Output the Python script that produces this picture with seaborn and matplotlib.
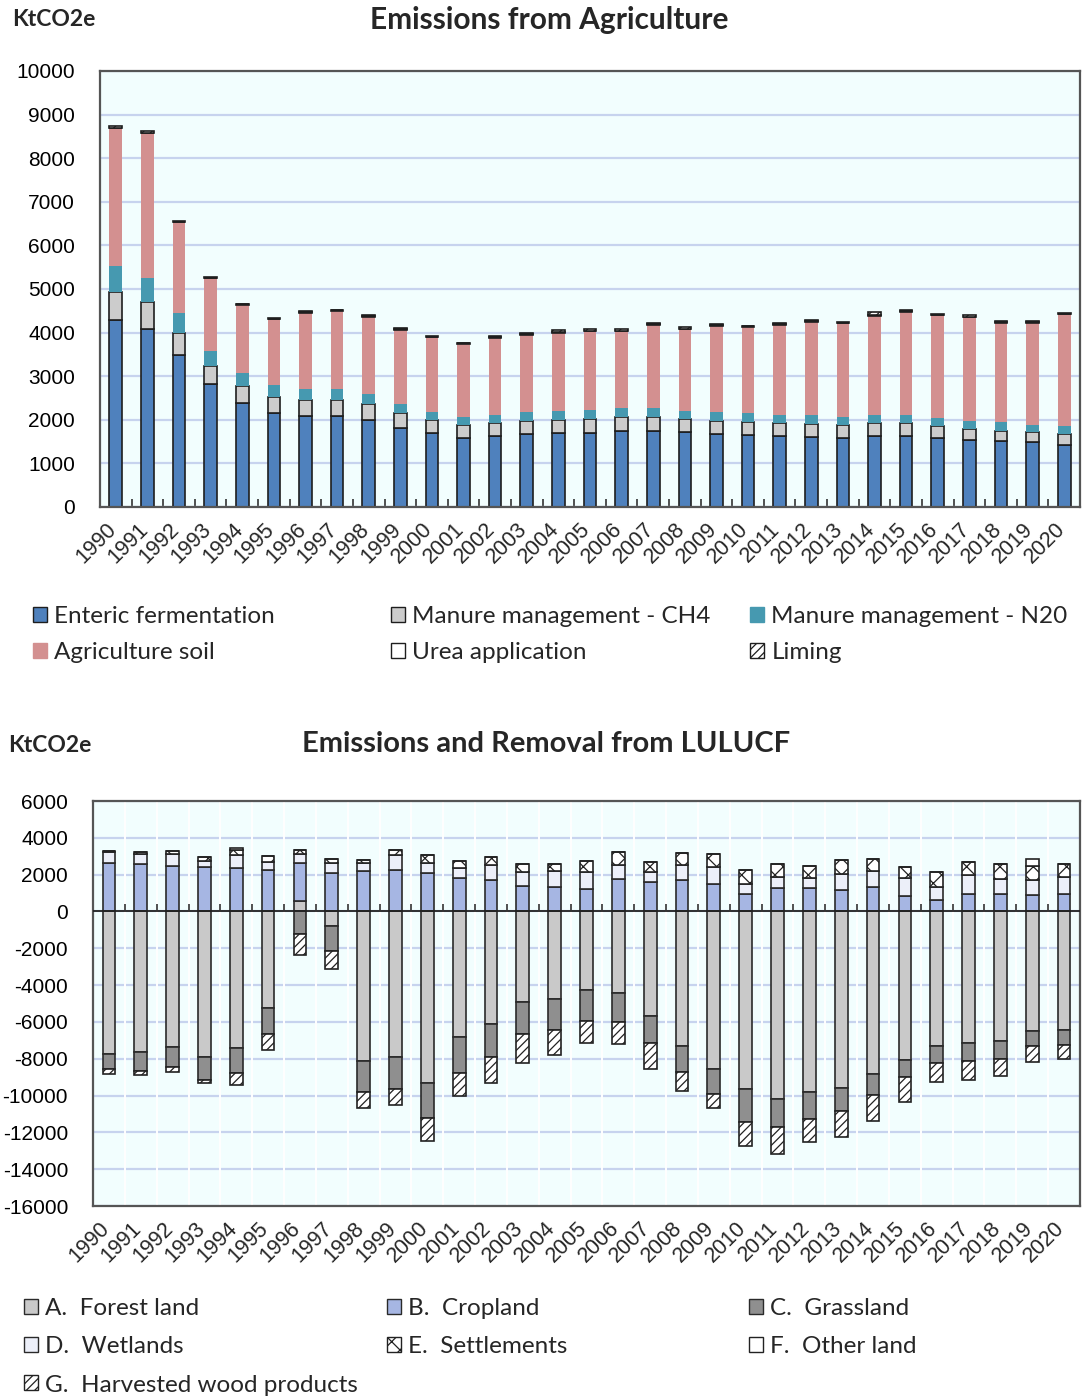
import matplotlib
matplotlib.use("Agg")
import matplotlib.pyplot as plt
import matplotlib.transforms as mtransforms
import numpy as np
import seaborn as sns
from matplotlib.patches import Patch

YEARS = [str(y) for y in range(1990, 2021)]

# Emissions from Agriculture (KtCO2e)
enteric = [4285, 4078, 3497, 2823, 2395, 2158, 2089, 2089, 2005, 1821, 1699, 1584, 1622, 1668, 1699, 1696,
           1734, 1734, 1711, 1673, 1642, 1627, 1604, 1574, 1620, 1627, 1581, 1528, 1505, 1482, 1429]
manure_ch4 = [650, 627, 505, 406, 390, 367, 375, 375, 367, 337, 290, 291, 306, 306, 290, 321,
              321, 329, 306, 298, 306, 298, 306, 298, 305, 298, 268, 260, 244, 229, 244]
manure_n2o = [597, 536, 451, 344, 291, 283, 252, 252, 229, 199, 199, 191, 191, 214, 214, 198,
              214, 214, 191, 199, 199, 191, 191, 183, 183, 191, 191, 175, 191, 176, 176]
agri_soil = [3152, 3328, 2073, 1668, 1561, 1499, 1745, 1783, 1760, 1706, 1706, 1675, 1768, 1768, 1799, 1811,
             1764, 1894, 1871, 1986, 1978, 2063, 2139, 2154, 2277, 2353, 2353, 2391, 2277, 2338, 2574]
urea = [15] * 31
liming = [41, 39, 24, 23, 15, 9, 15, 15, 23, 23, 16, 16, 15, 15, 38, 46,
          24, 31, 24, 31, 16, 15, 23, 24, 77, 39, 30, 24, 23, 23, 23]

# Emissions and Removal from LULUCF (KtCO2e)
forest = [-7763, -7654, -7345, -7890, -7400, -5218, 564, -764, -8127, -7927, -9309, -6836, -6109, -4927, -4763, -4272,
          -4436, -5672, -7291, -8545, -9654, -10163, -9800, -9581, -8836, -8072, -7291, -7127, -7036, -6472, -6436]
cropland = [2654, 2563, 2491, 2400, 2345, 2273, 2091, 2109, 2182, 2254, 2109, 1818, 1709, 1382, 1309, 1236,
            1764, 1600, 1709, 1491, 945, 1291, 1254, 1182, 1327, 836, 636, 964, 927, 873, 945]
grassland = [-818, -1000, -1091, -1273, -1400, -1454, -1200, -1400, -1673, -1727, -1891, -1964, -1818, -1745, -1673, -1673,
             -1582, -1491, -1454, -1345, -1782, -1545, -1454, -1254, -1109, -945, -964, -982, -964, -855, -836]
wetlands = [582, 582, 655, 364, 745, 400, 491, 509, 436, 800, 509, 527, 818, 764, 873, 909,
            764, 564, 818, 909, 545, 600, 582, 873, 855, 982, 709, 1000, 855, 818, 945]
settlements = [70, 109, 164, 182, 273, 327, 218, 255, 200, 273, 436, 382, 418, 418, 400, 618,
               709, 509, 636, 709, 745, 691, 636, 745, 655, 618, 800, 709, 782, 782, 691]
other_land = [0, 0, 0, 0, 100, 0, 0, 0, 0, 0, 0, 0, 0, 0, 0, 0,
              0, 0, 0, 0, 0, 0, 0, 0, 0, 0, 0, 0, 0, 364, 0]
hwp = [-273, -236, -273, -145, -636, -854, -1182, -945, -873, -873, -1273, -1200, -1382, -1545, -1345, -1218,
       -1200, -1400, -1000, -782, -1327, -1491, -1254, -1418, -1436, -1309, -1036, -1054, -927, -836, -764]

EDGE = "#1e1e1e"
AGRI_LAYERS = [
    ("Enteric fermentation", enteric, dict(color="#4f81bd", edgecolor=EDGE, linewidth=1.2)),
    ("Manure management - CH4", manure_ch4, dict(color="#cccccc", edgecolor=EDGE, linewidth=1.2)),
    ("Manure management - N20", manure_n2o, dict(color="#4699b0", linewidth=0)),
    ("Agriculture soil", agri_soil, dict(color="#d39090", linewidth=0)),
    ("Urea application", urea, dict(color="white", edgecolor=EDGE, linewidth=1.2)),
    ("Liming", liming, dict(color="white", edgecolor=EDGE, linewidth=1.2, hatch="////")),
]
LULUCF_LAYERS = [
    ("A.  Forest land", forest, dict(color="#c9c9c9", edgecolor="#2a2a2a", linewidth=1.2)),
    ("B.  Cropland", cropland, dict(color="#a6b6e3", edgecolor="#2a2a2a", linewidth=1.2)),
    ("C.  Grassland", grassland, dict(color="#8f8f8f", edgecolor="#2a2a2a", linewidth=1.2)),
    ("D.  Wetlands", wetlands, dict(color="#eceff9", edgecolor="#2a2a2a", linewidth=1.2)),
    ("E.  Settlements", settlements, dict(color="white", edgecolor="#222222", linewidth=1.2, hatch="xx")),
    ("F.  Other land", other_land, dict(color="white", edgecolor="#222222", linewidth=1.2)),
    ("G.  Harvested wood products", hwp, dict(color="white", edgecolor="#222222", linewidth=1.2, hatch="////")),
]

TICK_FONT = "Liberation Sans"
TEXT_FONT = "Lato"
BG = "#f2fefe"
GRID = "#c7d3ee"


def stacked_bars(ax, layers):
    pos = np.zeros(len(YEARS))
    neg = np.zeros(len(YEARS))
    for _, vals, style in layers:
        vals = np.asarray(vals, dtype=float)
        bottom = np.where(vals >= 0, pos, neg)
        sns.barplot(x=YEARS, y=vals, order=YEARS, ax=ax, bottom=bottom, width=0.4,
                    saturation=1, errorbar=None, **style)
        pos += np.clip(vals, 0, None)
        neg += np.clip(vals, None, 0)


def style_axes(ax, yticks):
    ax.set_facecolor(BG)
    ax.set_axisbelow(True)
    ax.set_xlim(-0.5, len(YEARS) - 0.5)
    ax.set_ylim(yticks[0], yticks[-1])
    ax.set_yticks(yticks)
    ax.set_yticklabels([str(v) for v in yticks], fontsize=15, family=TICK_FONT)
    ax.yaxis.grid(True, color=GRID, linewidth=1.6)
    ax.tick_params(axis="y", direction="in", length=8, width=1.2, pad=18, colors="#333333", labelcolor="black")
    ax.set_xticks(range(len(YEARS)))
    ax.set_xticklabels(YEARS, rotation=45, ha="right", rotation_mode="anchor", fontsize=15.5, family=TICK_FONT)
    ax.tick_params(axis="x", length=0, pad=10)
    offset = mtransforms.ScaledTranslation(-0.1, 0.02, ax.figure.dpi_scale_trans)
    for lab in ax.get_xticklabels():
        lab.set_transform(lab.get_transform() + offset)
    for sp in ax.spines.values():
        sp.set_visible(True)
        sp.set_color("#555555")
        sp.set_linewidth(1.6)
    ax.set_xlabel("")
    ax.set_ylabel("")


def column_legends(fig, layers, columns, xs, y_top, spacing):
    for col, x in zip(columns, xs):
        handles = []
        for idx in col:
            name, _, style = layers[idx]
            lw = style.get("linewidth", 0)
            handles.append(Patch(facecolor=style["color"],
                                 edgecolor=style.get("edgecolor", style["color"]) if lw else style["color"],
                                 hatch=style.get("hatch"), linewidth=1.0, label=name))
        fig.legend(handles=handles, loc="upper left", bbox_to_anchor=(x, y_top), frameon=False,
                   prop={"family": TEXT_FONT, "size": 17.5}, handlelength=0.58, handleheight=0.58,
                   handletextpad=0.3, labelspacing=spacing, borderpad=0, borderaxespad=0)


sns.set_theme(style="white")
plt.rcParams["axes.unicode_minus"] = False
plt.rcParams["hatch.linewidth"] = 0.9

W, H = 1083, 1396
fig = plt.figure(figsize=(W / 100, H / 100), dpi=100)

# Agriculture chart
ax1 = fig.add_axes([100 / W, 1 - 507 / H, 980 / W, 436 / H])
stacked_bars(ax1, AGRI_LAYERS)
style_axes(ax1, list(range(0, 10001, 1000)))
ax1.set_xticks(np.arange(0.5, len(YEARS) - 1, 1.0), minor=True)
ax1.tick_params(axis="x", which="minor", direction="in", length=6, width=1.2, color="#333333", bottom=True)

fig.text(12 / W, 1 - 20 / H, "KtCO2e", fontsize=16.5, fontweight="bold", family=TEXT_FONT, va="center", ha="left")
fig.text(549 / W, 1 - 20 / H, "Emissions from Agriculture", fontsize=21.5, fontweight="bold",
         family=TEXT_FONT, va="center", ha="center")
column_legends(fig, AGRI_LAYERS, [[0, 3], [1, 4], [2, 5]], [33 / W, 391 / W, 750 / W], 1 - 606 / H, 0.63)

# LULUCF chart
ax2 = fig.add_axes([93 / W, 1 - 1206 / H, 987 / W, 405 / H])
stacked_bars(ax2, LULUCF_LAYERS)
style_axes(ax2, list(range(-16000, 6001, 2000)))
for b in np.arange(0.5, len(YEARS) - 1, 1.0):
    ax2.axvline(b, color="white", linewidth=1.4, zorder=0.6)
ax2.axhline(0, color="#222222", linewidth=1.3, zorder=3)
ax2.vlines(np.arange(0.5, len(YEARS) - 1, 1.0), 0, 420, color="#333333", linewidth=1.2, zorder=3)

fig.text(8 / W, 1 - 745 / H, "KtCO2e", fontsize=16.5, fontweight="bold", family=TEXT_FONT, va="center", ha="left")
fig.text(546 / W, 1 - 744 / H, "Emissions and Removal from LULUCF", fontsize=21, fontweight="bold",
         family=TEXT_FONT, va="center", ha="center")
column_legends(fig, LULUCF_LAYERS, [[0, 3, 6], [1, 4], [2, 5]], [24 / W, 387 / W, 749 / W], 1 - 1298 / H, 0.71)

fig.savefig("out.png", dpi=100)
